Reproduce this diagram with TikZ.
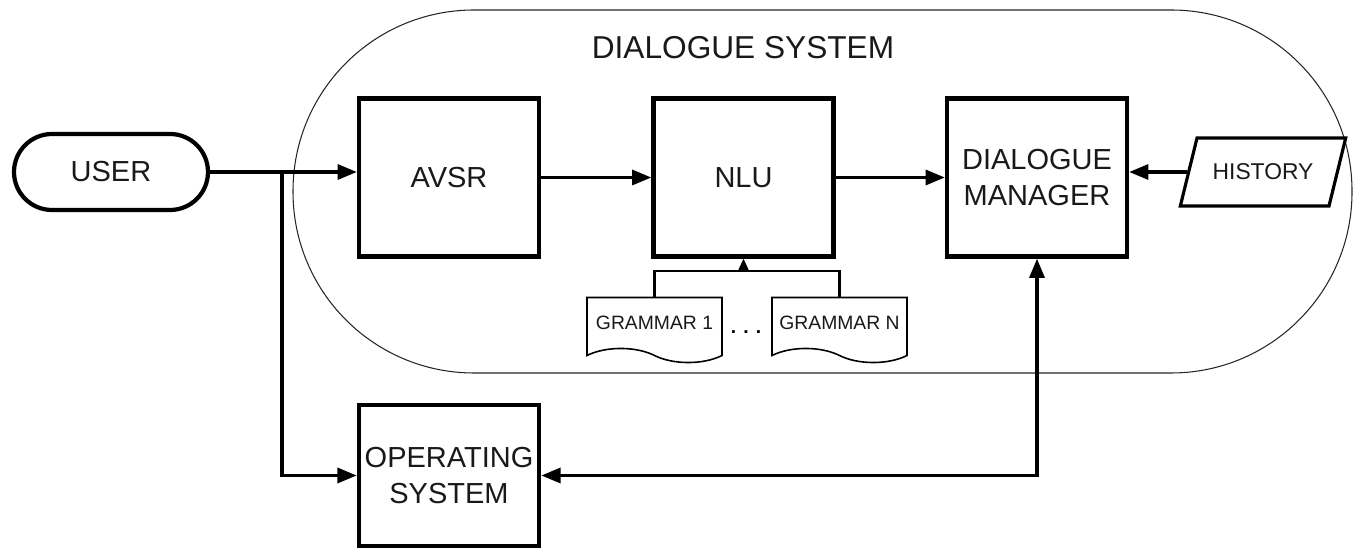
\documentclass[tikz,border=0pt]{standalone}
\usepackage{fontspec}
\setmainfont{Liberation Sans}
\usetikzlibrary{arrows.meta,shapes.geometric,shapes.symbols}

\begin{document}
\begin{tikzpicture}[
    system_box/.style={draw=black!85,line width=0.6pt,rounded corners=3.62cm,minimum width=21.18cm,minimum height=7.26cm},
    title_text/.style={text=black!90,font=\fontsize{18}{21}\selectfont},
    block_node/.style={draw,line width=2.4pt,minimum width=3.6cm,minimum height=3.16cm,align=center,text=black!90,font=\fontsize{16.5}{20}\selectfont},
    user_node/.style={draw,line width=2.4pt,rounded corners=0.76cm,minimum width=3.88cm,minimum height=1.52cm,text=black!90,font=\fontsize{16.5}{19}\selectfont},
    history_node/.style={trapezium,trapezium left angle=63,trapezium right angle=117,trapezium stretches=true,draw,line width=1.8pt,minimum width=3.33cm,minimum height=1.36cm,text=black!90,font=\fontsize{13}{15}\selectfont},
    grammar_node/.style={tape,tape bend top=none,tape bend bottom=out and in,tape bend height=8pt,draw,line width=0.9pt,minimum width=2.7cm,minimum height=1.3cm,text=black!90,font=\fontsize{11}{13}\selectfont},
    arrow_edge/.style={line width=2pt,-{Triangle[length=11pt,width=8.5pt]}},
    both_edge/.style={line width=2pt,{Triangle[length=11pt,width=8.5pt]}-{Triangle[length=11pt,width=8.5pt]}},
    tree_edge/.style={line width=1.3pt},
    small_arrow/.style={line width=1.3pt,-{Triangle[length=7pt,width=6pt]}}]
\useasboundingbox (0,0) rectangle (27.2,11);
\node[system_box] (sys) at (16.45,7.17) {};
\node[title_text] (title) at (14.86,10.04) {DIALOGUE SYSTEM};
\node[user_node] (0) at (2.22,7.56) {USER};
\node[block_node] (1) at (8.98,7.45) {AVSR};
\node[block_node] (2) at (14.87,7.45) {NLU};
\node[block_node] (3) at (20.74,7.45) {DIALOGUE\\MANAGER};
\node[history_node] (4) at (25.26,7.56) {HISTORY};
\node[block_node,minimum height=2.82cm] (5) at (8.98,1.49) {OPERATING\\SYSTEM};
\node[grammar_node] (6) at (13.09,4.54) {GRAMMAR 1};
\node[grammar_node] (7) at (16.79,4.54) {GRAMMAR N};
\node[font=\fontsize{11}{13}\bfseries] (dots) at (14.92,4.36) {. . .};
\coordinate (j1) at (5.64,7.56);
\coordinate (j2) at (14.87,5.58);
\draw[arrow_edge] (0.east) -- (0.east -| 1.west);
\draw[arrow_edge] (j1) |- (5.west);
\draw[arrow_edge] (1) -- (2);
\draw[arrow_edge] (2) -- (3);
\draw[arrow_edge] (4.west) -- (4.west -| 3.east);
\draw[both_edge] (3.south) |- (5.east);
\draw[tree_edge] (6.north) -- (6.north |- j2) -- (7.north |- j2) -- (7.north);
\draw[small_arrow] (j2) -- (2.south);
\end{tikzpicture}
\end{document}
